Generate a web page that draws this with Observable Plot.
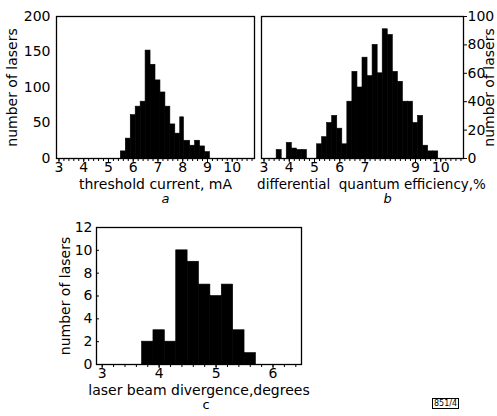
<!DOCTYPE html>
<html><head><meta charset="utf-8">
<script src="https://cdn.jsdelivr.net/npm/d3@7"></script>
<script src="https://cdn.jsdelivr.net/npm/@observablehq/plot@0.6"></script>
<style>
body{margin:0;background:#fff;}
#wrap{position:relative;width:497px;height:416px;overflow:hidden;font-family:"DejaVu Sans",sans-serif;background:#fff;}
#wrap svg{position:absolute;overflow:visible;}
#code{position:absolute;left:432px;top:398px;font-size:8px;border:1px solid #000;padding:0 1px;line-height:9px;color:#000;}
</style></head><body><div id="wrap"><div id="code">851/4</div></div>
<script>
// ---- panel a: threshold current, mA ----
const aEdges  = [5.5,5.7,5.9,6.1,6.3,6.5,6.7,6.9,7.1,7.3,7.5,7.7,7.9,8.05,8.3,8.5,8.7,8.9,9.1];
const aCounts = [10,28,61,73,80,152,132,110,93,73,48,35,58,25,18,25,17,9];
const aXTicks = [3,4,5,6,7,8,9,10];
const aYTicks = [0,50,100,150,200];
// ---- panel b: differential quantum efficiency, % ----
const bEdges  = [3.5,3.7,3.9,4.1,4.3,4.5,4.7,4.9,5.1,5.3,5.5,5.7,5.9,6.1,6.3,6.5,6.7,6.9,7.1,7.3,7.5,7.7,7.9,8.1,8.3,8.5,8.7,8.9,9.1,9.3,9.5,9.7,9.9];
const bCounts = [6,0,11,7,6,6,0,0,10,15,25,30,21,10,40,61,50,71,58,80,60,91,87,61,54,40,40,25,30,9,5,5];
const bXTicks = [3,4,5,6,7,9,10];
const bYTicks = [0,20,40,60,80,100];
// ---- panel c: laser beam divergence, degrees ----
const cEdges  = [3.7,3.9,4.1,4.3,4.5,4.7,4.9,5.1,5.3,5.5,5.7];
const cCounts = [2,3,2,10,9,7,6,7,3,1];
const cXTicks = [3,4,5,6];
const cYTicks = [0,2,4,6,8,10,12];
// minor tick values along x axes
const abMinor = [3,3.2,3.4,3.6,3.8,4,4.2,4.4,4.6,4.8,5,5.2,5.4,5.6,5.8,6,6.2,6.4,6.6,6.8,7,7.2,7.4,7.6,7.8,8,8.2,8.4,8.6,8.8,9,9.2,9.4,9.6,9.8,10,10.2,10.4,10.6,10.8];
const cMinor  = [3,3.2,3.4,3.6,3.8,4,4.2,4.4,4.6,4.8,5,5.2,5.4,5.6,5.8,6,6.2,6.4];

const labels = {
  a: {x: "threshold current, mA", y: "number of lasers", tag: "a"},
  b: {x: "differential  quantum efficiency,%", y: "number of lasers", tag: "b"},
  c: {x: "laser beam divergence,degrees", y: "number of lasers", tag: "c"}
};

const bars = (edges, counts) => counts.map((c, i) => ({x1: edges[i], x2: edges[i + 1], n: c}));
const style = {fontFamily: "DejaVu Sans, sans-serif", fontSize: "14px", color: "#000", background: "transparent", overflow: "visible"};
const fmt = d => String(d);
const wrap = document.getElementById("wrap");

function place(svg, left, top) {
  svg.style.left = left + "px";
  svg.style.top = top + "px";
  wrap.appendChild(svg);
}
const barMark = (e, c) => Plot.rectY(bars(e, c), {x1: "x1", x2: "x2", y: "n", fill: "#000", stroke: "#000", strokeWidth: 0.6});
const minorTicks = (vals) => Plot.ruleX(vals, {x: d => d, y1: 0, y2: 0, insetBottom: -3, stroke: "#000", strokeWidth: 1});
const yTitle = (t, anchor, dx) => Plot.text([t], {text: d => d, frameAnchor: anchor, textAnchor: "middle", dx, rotate: -90, fontSize: 14});
const xTitle = (t, dx, size) => Plot.text([t], {text: d => d, frameAnchor: "bottom", dx, dy: 30, fontSize: size});

// Panel a
place(Plot.plot({
  width: 265, height: 205, marginLeft: 56, marginRight: 11, marginTop: 16, marginBottom: 47,
  x: {domain: [2.9, 10.9], label: null}, y: {domain: [0, 200], label: null},
  style,
  marks: [
    barMark(aEdges, aCounts),
    Plot.frame({stroke: "#000", strokeWidth: 1.3}),
    minorTicks(abMinor),
    Plot.axisX({ticks: aXTicks, tickSize: 4, tickPadding: 0, tickFormat: fmt, label: null, fontSize: 14}),
    Plot.axisY({ticks: aYTicks, tickSize: 0, tickPadding: 6, tickFormat: fmt, label: null, fontSize: 14}),
    yTitle(labels.a.y, "left", -44),
    xTitle(labels.a.x, 0, 14),
    Plot.text([labels.a.tag], {text: d => d, frameAnchor: "bottom", dx: 10, dy: 44, fontSize: 13, fontStyle: "italic"})
  ]
}), 0, 0);

// Panel b
place(Plot.plot({
  width: 247, height: 205, marginLeft: 11, marginRight: 34, marginTop: 16, marginBottom: 47,
  x: {domain: [2.9, 10.9], label: null}, y: {domain: [0, 100], label: null},
  style,
  marks: [
    barMark(bEdges, bCounts),
    Plot.frame({stroke: "#000", strokeWidth: 1.3}),
    minorTicks(abMinor),
    Plot.axisX({ticks: bXTicks, tickSize: 4, tickPadding: 0, tickFormat: fmt, label: null, fontSize: 14}),
    Plot.axisY({ticks: bYTicks, anchor: "right", tickSize: 3, tickPadding: 1, tickFormat: fmt, label: null, fontSize: 14}),
    yTitle(labels.b.y, "right", 26),
    xTitle(labels.b.x, 9, 13.5),
    Plot.text([labels.b.tag], {text: d => d, frameAnchor: "bottom", dx: 25, dy: 44, fontSize: 13, fontStyle: "italic"})
  ]
}), 250, 0);

// Panel c
place(Plot.plot({
  width: 290, height: 206, marginLeft: 56, marginRight: 29, marginTop: 17, marginBottom: 52,
  x: {domain: [2.9, 6.5], label: null}, y: {domain: [0, 12], label: null},
  style,
  marks: [
    barMark(cEdges, cCounts),
    Plot.frame({stroke: "#000", strokeWidth: 1.3}),
    minorTicks(cMinor),
    Plot.axisX({ticks: cXTicks, tickSize: 4, tickPadding: 0, tickFormat: fmt, label: null, fontSize: 14}),
    Plot.axisY({ticks: cYTicks, tickSize: -3, tickPadding: 7, tickFormat: fmt, label: null, fontSize: 14}),
    yTitle(labels.c.y, "left", -31),
    xTitle(labels.c.x, 0, 14),
    Plot.text([labels.c.tag], {text: d => d, frameAnchor: "bottom", dx: 7, dy: 44, fontSize: 13})
  ]
}), 40, 210);
</script></body></html>
